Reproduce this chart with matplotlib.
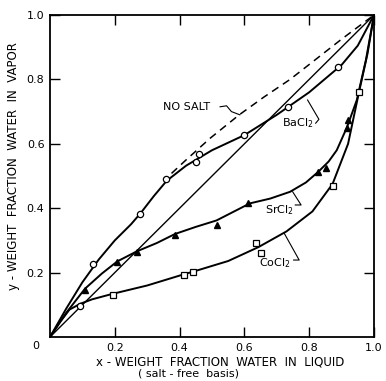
import numpy as np
import matplotlib
matplotlib.use("Agg")
import matplotlib.pyplot as plt

# points (x = liquid, y = vapor)
ba_x = [0.134, 0.278, 0.357, 0.451, 0.461, 0.600, 0.736, 0.888]
ba_y = [0.227, 0.383, 0.490, 0.543, 0.568, 0.627, 0.715, 0.837]
sr_x = [0.108, 0.208, 0.268, 0.386, 0.514, 0.612, 0.828, 0.852, 0.916, 0.921]
sr_y = [0.146, 0.232, 0.263, 0.317, 0.348, 0.415, 0.513, 0.524, 0.648, 0.674]
co_x = [0.193, 0.414, 0.442, 0.636, 0.650, 0.872, 0.954]
co_y = [0.130, 0.193, 0.201, 0.293, 0.262, 0.469, 0.762]
extra_x = [0.093]
extra_y = [0.096]

# smooth curves traced by hand
ba_cx = [0, 0.05, 0.10, 0.15, 0.20, 0.25, 0.28, 0.32, 0.36, 0.42, 0.50, 0.60, 0.70, 0.80, 0.90, 0.95, 1.0]
ba_cy = [0, 0.088, 0.170, 0.240, 0.300, 0.350, 0.385, 0.437, 0.485, 0.532, 0.580, 0.627, 0.690, 0.760, 0.845, 0.905, 1.0]
sr_cx = [0, 0.05, 0.108, 0.16, 0.208, 0.268, 0.33, 0.386, 0.45, 0.514, 0.617, 0.68, 0.741,
         0.79, 0.828, 0.86, 0.885, 0.916, 0.947, 0.975, 1.0]
sr_cy = [0, 0.075, 0.150, 0.197, 0.235, 0.266, 0.292, 0.320, 0.342, 0.362, 0.415, 0.430, 0.451,
         0.480, 0.513, 0.545, 0.580, 0.650, 0.736, 0.860, 1.0]
co_cx = [0, 0.03, 0.06, 0.093, 0.13, 0.193, 0.30, 0.414, 0.442, 0.55, 0.643, 0.73, 0.81,
         0.872, 0.92, 0.954, 0.98, 1.0]
co_cy = [0, 0.045, 0.085, 0.103, 0.117, 0.134, 0.160, 0.195, 0.203, 0.236, 0.279, 0.328, 0.390,
         0.475, 0.600, 0.762, 0.880, 1.0]
ns_cx = [0.375, 0.42, 0.494, 0.584, 0.66, 0.741, 0.82, 0.90, 1.0]
ns_cy = [0.508, 0.550, 0.617, 0.690, 0.745, 0.800, 0.862, 0.925, 1.0]

ticks = [0.2, 0.4, 0.6, 0.8, 1.0]
tick_labels = ["0.2", "0.4", "0.6", "0.8", "1.0"]

fig = plt.figure(figsize=(3.86, 3.81), dpi=100)
ax = fig.add_axes([50 / 386, 44 / 381, 324 / 386, 322 / 381])

ax.plot([0, 1], [0, 1], color="black", lw=1.0)
ax.plot(ba_cx, ba_cy, color="black", lw=1.4)
ax.plot(sr_cx, sr_cy, color="black", lw=1.4)
ax.plot(co_cx, co_cy, color="black", lw=1.4)
ax.plot(ns_cx, ns_cy, color="black", lw=1.1, dashes=(5, 3.5))

ms = 4.5
ax.plot(ba_x, ba_y, "o", mfc="white", mec="black", mew=0.9, ms=ms)
ax.plot(extra_x, extra_y, "o", mfc="white", mec="black", mew=0.9, ms=ms)
ax.plot(sr_x, sr_y, "^", mfc="black", mec="black", ms=ms + 0.5)
ax.plot(co_x, co_y, "s", mfc="white", mec="black", mew=0.9, ms=ms)

# labels with leaders
fs = 8
ax.text(0.35, 0.715, "NO SALT", fontsize=fs, ha="left", va="center")
ax.plot([0.525, 0.545, 0.56, 0.586], [0.715, 0.718, 0.70, 0.690], color="black", lw=0.8)
ax.text(0.766, 0.664, "BaCl$_2$", fontsize=fs, ha="center", va="center")
ax.plot([0.82, 0.83, 0.795], [0.664, 0.676, 0.736], color="black", lw=0.8)
ax.text(0.707, 0.394, "SrCl$_2$", fontsize=fs, ha="center", va="center")
ax.plot([0.757, 0.775, 0.749], [0.41, 0.41, 0.451], color="black", lw=0.8)
ax.text(0.695, 0.229, "CoCl$_2$", fontsize=fs, ha="center", va="center")
ax.plot([0.752, 0.769, 0.723], [0.239, 0.239, 0.322], color="black", lw=0.8)

ax.set_xlim(0, 1)
ax.set_ylim(0, 1)
ax.set_xticks(ticks)
ax.set_xticklabels(tick_labels)
ax.set_yticks(ticks)
ax.set_yticklabels(tick_labels)
ax.tick_params(direction="in", length=7, width=1, labelsize=8, top=True, right=True, pad=4)
for s in ax.spines.values():
    s.set_linewidth(1.3)

fig.text(36 / 386, 1 - 346 / 381, "0", fontsize=8, ha="center", va="center")
fig.text(220 / 386, 1 - 362 / 381, "x - WEIGHT  FRACTION  WATER  IN  LIQUID",
         fontsize=8.5, ha="center", va="center")
fig.text(189 / 386, 1 - 374 / 381, "( salt - free  basis)", fontsize=8, ha="center", va="center")
fig.text(14 / 386, 1 - 166 / 381, "y - WEIGHT  FRACTION  WATER  IN  VAPOR",
         fontsize=8.5, ha="center", va="center", rotation=90)

fig.savefig("out.png", dpi=100)
